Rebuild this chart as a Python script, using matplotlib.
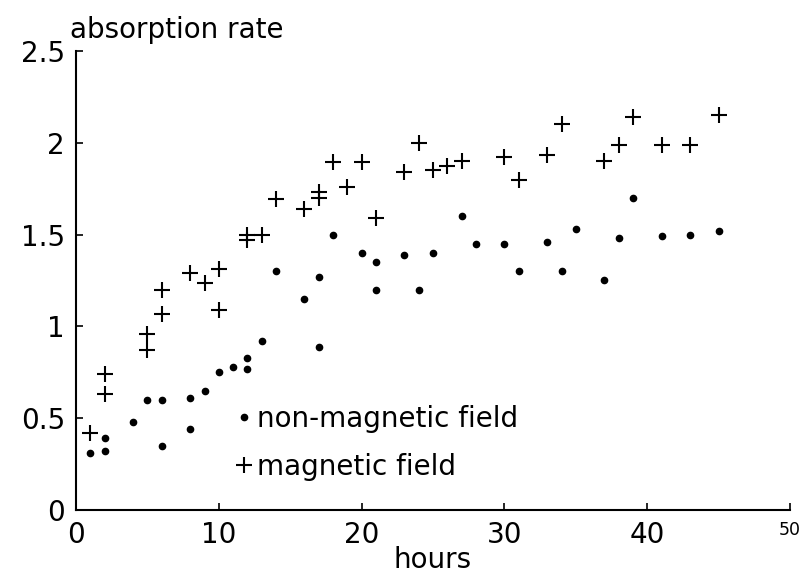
#!/usr/bin/env python3
"""
Absorption rate vs hours, with and without magnetic field
"""

import matplotlib
matplotlib.use('Agg')
import matplotlib.pyplot as plt

# Datos
hours_plain = [1, 2, 2, 4, 5, 6, 6, 8, 8, 9, 10, 11, 12, 12, 13, 14, 16, 17, 17, 18,
               20, 21, 21, 23, 24, 25, 27, 28, 30, 31, 33, 34, 35, 37, 38, 39, 41, 43, 45]
rate_plain = [0.31, 0.39, 0.32, 0.48, 0.60, 0.60, 0.35, 0.61, 0.44, 0.65, 0.75, 0.78, 0.83,
              0.77, 0.92, 1.30, 1.15, 1.27, 0.89, 1.50, 1.40, 1.35, 1.20, 1.39, 1.20, 1.40,
              1.60, 1.45, 1.45, 1.30, 1.46, 1.30, 1.53, 1.25, 1.48, 1.70, 1.49, 1.50, 1.52]

hours_mag = [1, 2, 2, 5, 5, 6, 6, 8, 9, 10, 10, 12, 12, 13, 14, 16, 17, 17, 18, 19,
             20, 21, 23, 24, 25, 26, 27, 30, 31, 33, 34, 37, 38, 39, 41, 43, 45]
rate_mag = [0.42, 0.74, 0.63, 0.96, 0.87, 1.20, 1.07, 1.29, 1.235, 1.31, 1.09, 1.50, 1.47,
            1.50, 1.695, 1.64, 1.70, 1.73, 1.895, 1.76, 1.895, 1.59, 1.84, 2.00, 1.85, 1.875,
            1.90, 1.92, 1.80, 1.935, 2.10, 1.90, 1.99, 2.14, 1.99, 1.99, 2.15]

x_ticks = [0, 10, 20, 30, 40, 50]
y_ticks = [0, 0.5, 1, 1.5, 2, 2.5]
y_tick_labels = ['0', '0.5', '1', '1.5', '2', '2.5']

plt.rcParams['font.family'] = ['DejaVu Sans']

fig = plt.figure(figsize=(8.05, 5.73), dpi=100)
ax = fig.add_axes([0.0944, 0.11, 0.887, 0.801])

ax.plot(hours_plain, rate_plain, 'o', color='black', markersize=4.5,
        linestyle='none', label='non-magnetic field')
ax.plot(hours_mag, rate_mag, '+', color='black', markersize=12, markeredgewidth=1.5,
        linestyle='none', label='magnetic field')

ax.set_xlim(0, 50)
ax.set_ylim(0, 2.5)
ax.set_xticks(x_ticks)
ax.set_yticks(y_ticks)
ax.set_yticklabels(y_tick_labels)

for side in ['top', 'right']:
    ax.spines[side].set_visible(False)
for side in ['left', 'bottom']:
    ax.spines[side].set_linewidth(1.5)

ax.tick_params(direction='in', length=5, width=1.2, labelsize=20, pad=8)
for lbl in ax.get_xticklabels():
    if lbl.get_text() == '50':
        lbl.set_fontsize(12.5)

ax.set_xlabel('hours', fontsize=20, labelpad=-2)
ax.text(-0.008, 1.028, 'absorption rate', transform=ax.transAxes,
        fontsize=20, ha='left', va='baseline')

ax.legend(loc='center left', bbox_to_anchor=(0.2237, 0.147), frameon=False,
          fontsize=20, handlelength=0.6, handletextpad=0.15, labelspacing=0.72,
          borderpad=0, borderaxespad=0, markerscale=1)

plt.savefig('out.png', dpi=100)
plt.close()
